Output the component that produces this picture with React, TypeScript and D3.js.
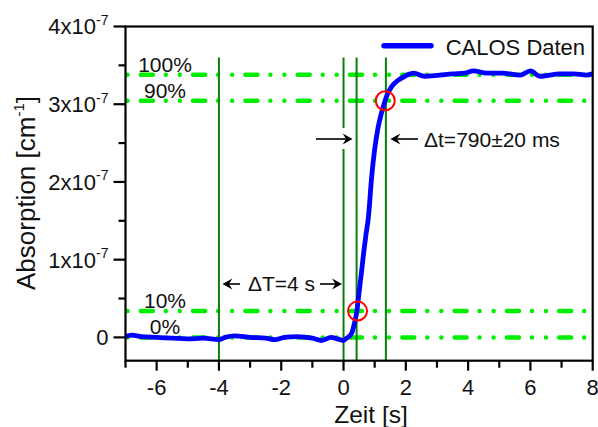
import React from "react";
import * as d3 from "d3";

// CALOS absorption step response, absorption in units of 1e-7 cm^-1
const times = [
  -7.0, -6.8, -6.5, -6.0, -5.5, -5.0, -4.5, -4.0, -3.8, -3.5, -3.0, -2.5, -2.2, -1.9,
  -1.5, -1.0, -0.7, -0.4, -0.2, 0.0, 0.1, 0.2, 0.27, 0.35, 0.43, 0.5, 0.58, 0.65, 0.72,
  0.8, 0.9, 1.0, 1.1, 1.2, 1.3, 1.4, 1.55, 1.76, 1.97, 2.25, 2.6, 3.0, 3.5, 3.9, 4.17,
  4.6, 5.1, 5.67, 6.0, 6.3, 6.95, 7.4, 7.8, 8.0,
];
const absorption = [
  0.01, 0.03, 0.01, 0.0, -0.01, -0.02, -0.01, -0.03, 0.0, 0.02, 0.0, -0.01, -0.03, 0.0,
  0.01, -0.01, -0.04, 0.0, -0.02, -0.04, -0.01, 0.02, 0.06, 0.18, 0.34, 0.58, 0.85, 1.1,
  1.32, 1.55, 2.05, 2.42, 2.68, 2.86, 3.0, 3.12, 3.23, 3.31, 3.36, 3.4, 3.36, 3.37, 3.39,
  3.4, 3.43, 3.4, 3.4, 3.375, 3.43, 3.36, 3.39, 3.39, 3.375, 3.39,
];

// reference levels (0 %, 10 %, 90 %, 100 % of the step)
const levelLabels = ["0%", "10%", "90%", "100%"];
const levelValues = [0, 0.338, 3.045, 3.38];

// vertical marker lines: trigger, start, 10 % and 90 % crossing
const markerTimes = [-4, 0, 0.42, 1.36];
// crossing points that are circled
const crossTimes = [0.45, 1.34];
const crossValues = [0.338, 3.045];

const xMajorTicks = [-6, -4, -2, 0, 2, 4, 6, 8];
const xMinorTicks = [-7, -5, -3, -1, 1, 3, 5, 7];
const yMajorTicks = [0, 1, 2, 3, 4];
const yMinorTicks = [0.5, 1.5, 2.5, 3.5];

const legendLabel = "CALOS Daten";
const xTitle = "Zeit [s]";
const bigDeltaLabel = "\u0394T=4 s";
const smallDeltaLabel = "\u0394t=790\u00b120 ms";

const W = 598;
const H = 427;
const FONT = "'Liberation Sans', Arial, sans-serif";
const LEVEL_GREEN = "#00ee00";
const MARK_GREEN = "#0a800a";

function Arrow({ tail, tip, y }: { tail: number; tip: number; y: number }) {
  const dir = tip > tail ? 1 : -1;
  const headLen = 10;
  const half = 5.5;
  const head = `M${tip},${y} L${tip - dir * headLen},${y - half} L${tip - dir * 6.5},${y} L${tip - dir * headLen},${y + half} Z`;
  return (
    <g>
      <line x1={tail} x2={tip - dir * 6} y1={y} y2={y} stroke="#000" strokeWidth={1.6} />
      <path d={head} fill="#000" />
    </g>
  );
}

export default function App() {
  const x = d3.scaleLinear().domain([-7, 8]).range([125.5, 592.7]);
  const y = d3.scaleLinear().domain([-0.3, 4]).range([360.7, 26.5]);
  const [x0, x1] = x.range();
  const [yB, yT] = y.range();

  const pts: [number, number][] = times.map((t, i) => [t, absorption[i]]);
  const line = d3
    .line<[number, number]>()
    .x((d) => x(d[0]))
    .y((d) => y(d[1]))
    .curve(d3.curveMonotoneX);

  const markerTop = 57.5;
  const dtArrowY = 139;
  const dTArrowY = 284;

  return (
    <svg
      width={W}
      height={H}
      style={{ position: "absolute", left: 0, top: 0, background: "#fff" }}
      fontFamily={FONT}
    >
      <rect x={0} y={0} width={W} height={H} fill="#fff" />

      {/* reference levels */}
      {levelValues.map((v, i) => (
        <g key={"lvl" + i}>
          <line
            x1={x0}
            x2={x1}
            y1={y(v)}
            y2={y(v)}
            stroke={LEVEL_GREEN}
            strokeWidth={4.5}
            strokeLinecap="round"
            strokeDasharray="12 13 0 14 0 13.3"
            strokeDashoffset={37}
          />
          <text x={165} y={y(v) - 3} fontSize={21} textAnchor="middle" fill="#111">
            {levelLabels[i]}
          </text>
        </g>
      ))}

      {/* vertical markers; the t=0 marker leaves room for the arrow */}
      {markerTimes.map((t, i) =>
        t === 0 ? (
          <g key={"m" + i}>
            <line x1={x(t)} x2={x(t)} y1={markerTop} y2={dtArrowY - 11} stroke={MARK_GREEN} strokeWidth={2} />
            <line x1={x(t)} x2={x(t)} y1={dtArrowY + 10} y2={yB} stroke={MARK_GREEN} strokeWidth={2} />
          </g>
        ) : (
          <line key={"m" + i} x1={x(t)} x2={x(t)} y1={markerTop} y2={yB} stroke={MARK_GREEN} strokeWidth={2} />
        )
      )}

      {/* data */}
      <path d={line(pts) ?? ""} fill="none" stroke="#0000ff" strokeWidth={4.8} strokeLinejoin="round" />

      {crossTimes.map((t, i) => (
        <circle key={"c" + i} cx={x(t)} cy={y(crossValues[i])} r={9.5} fill="none" stroke="#ff0000" strokeWidth={2} />
      ))}

      {/* ΔT annotation */}
      <Arrow tail={240} tip={x(-4) + 3.5} y={dTArrowY} />
      <text x={281.5} y={dTArrowY + 7} fontSize={21} textAnchor="middle" fill="#111">
        {bigDeltaLabel}
      </text>
      <Arrow tail={320} tip={x(0) - 1.5} y={dTArrowY} />

      {/* Δt annotation */}
      <Arrow tail={316} tip={x(markerTimes[2]) - 4} y={dtArrowY} />
      <Arrow tail={418} tip={x(markerTimes[3]) + 4.5} y={dtArrowY} />
      <text x={424} y={dtArrowY + 7.7} fontSize={21} fill="#111">
        {smallDeltaLabel}
      </text>

      {/* legend */}
      <line x1={384} x2={431} y1={45.7} y2={45.7} stroke="#0000ff" strokeWidth={5.5} strokeLinecap="round" />
      <text x={445.7} y={55} fontSize={22} fill="#111">
        {legendLabel}
      </text>

      {/* frame */}
      <rect x={x0} y={yT} width={x1 - x0} height={yB - yT} fill="none" stroke="#000" strokeWidth={2.2} />

      {/* y axis */}
      {yMajorTicks.map((v) => (
        <g key={"ym" + v}>
          <line x1={x0 - 12} x2={x0} y1={y(v)} y2={y(v)} stroke="#000" strokeWidth={2.2} />
          <text x={108.5} y={y(v)} dy="0.36em" fontSize={22} textAnchor="end" fill="#111">
            {v === 0 ? (
              "0"
            ) : (
              <>
                {`${v}x10`}
                <tspan fontSize={14} dy={-9.5}>
                  -7
                </tspan>
              </>
            )}
          </text>
        </g>
      ))}
      {yMinorTicks.map((v) => (
        <line key={"yn" + v} x1={x0 - 7} x2={x0} y1={y(v)} y2={y(v)} stroke="#000" strokeWidth={2.2} />
      ))}

      {/* x axis */}
      {xMajorTicks.map((v) => (
        <g key={"xm" + v}>
          <line x1={x(v)} x2={x(v)} y1={yB} y2={yB + 10} stroke="#000" strokeWidth={2.2} />
          <text x={x(v)} y={394.5} fontSize={22} textAnchor="middle" fill="#111">
            {String(v)}
          </text>
        </g>
      ))}
      {xMinorTicks.map((v) => (
        <line key={"xn" + v} x1={x(v)} x2={x(v)} y1={yB} y2={yB + 7} stroke="#000" strokeWidth={2.2} />
      ))}

      {/* axis titles */}
      <text x={371} y={422.5} fontSize={24.5} textAnchor="middle" fill="#111">
        {xTitle}
      </text>
      <text transform="translate(35,193) rotate(-90)" fontSize={26} textAnchor="middle" fill="#111">
        Absorption [cm
        <tspan fontSize={15} dy={-11}>
          -1
        </tspan>
        <tspan dy={11}>]</tspan>
      </text>
    </svg>
  );
}
